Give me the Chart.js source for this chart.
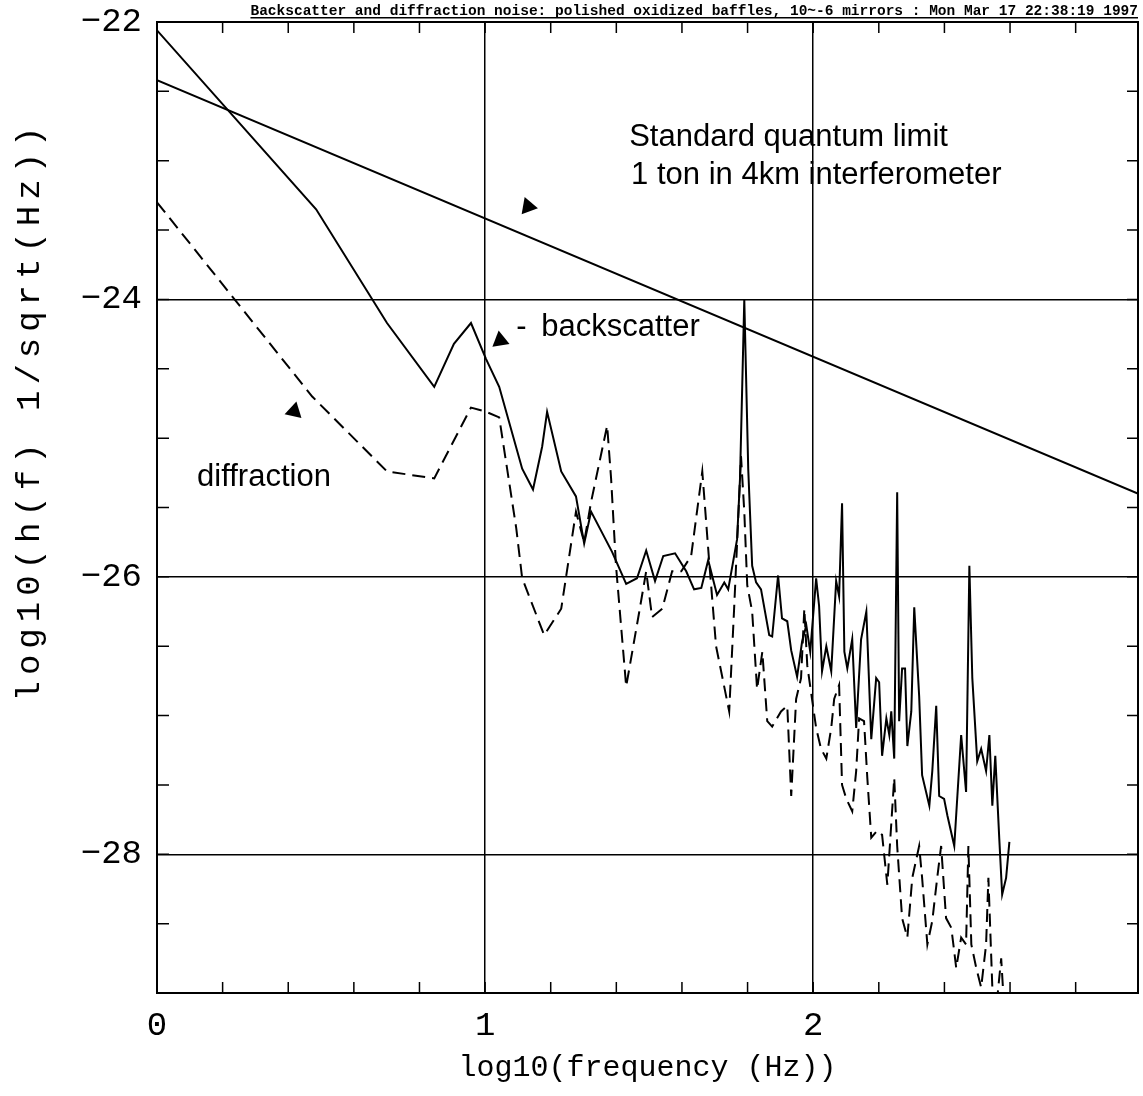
<!DOCTYPE html>
<html>
<head>
<meta charset="utf-8">
<title>Backscatter and diffraction noise</title>
<script src="https://cdn.jsdelivr.net/npm/chart.js@4.4.1/dist/chart.umd.min.js"></script>
<style>
    html, body { margin: 0; padding: 0; background: #fff; }
    canvas { display: block; }
</style>
</head>
<body>
<canvas id="noise" width="1143" height="1096"></canvas>
<script>
/* values: x = log10(frequency), y = log10(h(f)) */
const sqlFreq = [0, 3];
const sqlH    = [-22.42, -25.41];

const backFreq = [0, 0.485, 0.701, 0.845, 0.905, 0.957, 1.003, 1.043, 1.113, 1.146,
    1.174, 1.189, 1.232, 1.277, 1.302, 1.323, 1.387, 1.430, 1.463, 1.491,
    1.518, 1.543, 1.579, 1.613, 1.637, 1.659, 1.680, 1.707, 1.729, 1.741,
    1.768, 1.777, 1.790, 1.802, 1.814, 1.826, 1.841, 1.866, 1.875, 1.893,
    1.905, 1.921, 1.933, 1.951, 1.966, 1.979, 1.991, 2.009, 2.018, 2.027,
    2.040, 2.055, 2.070, 2.079, 2.088, 2.095, 2.104, 2.119, 2.131, 2.146,
    2.162, 2.177, 2.192, 2.201, 2.210, 2.223, 2.232, 2.238, 2.247, 2.256,
    2.262, 2.271, 2.280, 2.287, 2.299, 2.308, 2.323, 2.332, 2.354, 2.363,
    2.375, 2.384, 2.399, 2.409, 2.430, 2.451, 2.466, 2.476, 2.485, 2.500,
    2.512, 2.527, 2.537, 2.546, 2.555, 2.567, 2.576, 2.588, 2.598];
const backH = [-22.06, -23.35, -24.17, -24.63, -24.32, -24.17, -24.43, -24.63, -25.22, -25.37,
    -25.06, -24.81, -25.24, -25.42, -25.76, -25.53, -25.82, -26.05, -26.01, -25.81,
    -26.03, -25.85, -25.83, -25.96, -26.09, -26.08, -25.88, -26.13, -26.04, -26.09,
    -25.73, -25.29, -24.00, -25.22, -25.92, -26.04, -26.09, -26.42, -26.43, -25.99,
    -26.30, -26.32, -26.53, -26.72, -26.47, -26.35, -26.54, -26.01, -26.21, -26.68,
    -26.50, -26.68, -26.03, -26.14, -25.47, -26.54, -26.66, -26.45, -27.09, -26.45,
    -26.25, -27.17, -26.73, -26.76, -27.29, -27.02, -27.14, -26.97, -27.31, -25.39,
    -27.04, -26.66, -26.66, -27.22, -26.97, -26.22, -26.86, -27.43, -27.65, -27.40,
    -26.93, -27.58, -27.60, -27.72, -27.94, -27.14, -27.55, -25.92, -26.73, -27.33,
    -27.24, -27.40, -27.14, -27.65, -27.29, -27.88, -28.29, -28.17, -27.91];

const diffFreq = [0, 0.473, 0.701, 0.845, 0.957, 1.003, 1.043, 1.095, 1.113, 1.180,
    1.232, 1.277, 1.302, 1.323, 1.372, 1.384, 1.399, 1.430, 1.470, 1.491,
    1.509, 1.540, 1.570, 1.598, 1.628, 1.662, 1.683, 1.704, 1.744, 1.759,
    1.780, 1.790, 1.799, 1.814, 1.829, 1.845, 1.860, 1.875, 1.902, 1.921,
    1.933, 1.948, 1.963, 1.973, 1.982, 2.009, 2.024, 2.040, 2.055, 2.064,
    2.079, 2.088, 2.101, 2.119, 2.131, 2.140, 2.155, 2.165, 2.177, 2.195,
    2.210, 2.226, 2.247, 2.256, 2.271, 2.287, 2.302, 2.323, 2.332, 2.348,
    2.363, 2.378, 2.390, 2.405, 2.421, 2.436, 2.451, 2.466, 2.473, 2.482,
    2.497, 2.512, 2.527, 2.534, 2.546, 2.558, 2.573, 2.582];
const diffH = [-23.30, -24.70, -25.24, -25.29, -24.78, -24.81, -24.85, -25.65, -26.01, -26.42,
    -26.23, -25.53, -25.75, -25.46, -24.91, -25.29, -25.92, -26.79, -26.25, -25.96,
    -26.29, -26.23, -25.96, -25.96, -25.85, -25.24, -25.89, -26.50, -26.97, -26.23,
    -25.13, -25.53, -26.06, -26.25, -26.81, -26.54, -27.04, -27.08, -26.97, -26.93,
    -27.58, -26.88, -26.73, -26.23, -26.64, -27.09, -27.24, -27.31, -27.09, -26.88,
    -26.78, -27.50, -27.60, -27.69, -27.40, -27.02, -27.04, -27.45, -27.88, -27.83,
    -27.86, -28.22, -27.45, -27.94, -28.46, -28.60, -28.17, -27.94, -28.17, -28.65,
    -28.48, -28.17, -27.94, -28.46, -28.53, -28.82, -28.60, -28.65, -27.94, -28.65,
    -28.82, -28.96, -28.65, -28.17, -28.96, -29.11, -28.75, -29.11];

/* little arrow heads and their direction (deg, clockwise from up) */
const arrowFreq  = [1.131, 1.046, 0.418];
const arrowH     = [-23.33, -24.295, -24.806];
const arrowAngle = [220, 231, 253];

/* labels written inside the plot */
const noteText = ['Standard quantum limit', '1 ton in 4km interferometer', '-', 'backscatter', 'diffraction'];
const noteFreq = [1.439, 1.445, 1.095, 1.171, 0.122];
const noteH    = [-22.892, -23.165, -24.266, -24.266, -25.345];

/* axes */
const xTickVals  = [0, 0.2, 0.4, 0.6, 0.8, 1, 1.2, 1.4, 1.6, 1.8, 2, 2.2, 2.4, 2.6, 2.8];
const xLabelVals = [0, 1, 2];
const yTickVals  = [-29, -28.5, -28, -27.5, -27, -26.5, -26, -25.5, -25, -24.5, -24, -23.5, -23, -22.5, -22];
const yLabelVals = [-22, -24, -26, -28];
const xGridVals  = [1, 2];
const yGridVals  = [-24, -26, -28];

const topTitle = 'Backscatter and diffraction noise: polished oxidized baffles, 10~-6 mirrors : Mon Mar 17 22:38:19 1997';
const xTitle = 'log10(frequency (Hz))';
const yTitle = 'log10(h(f) 1/sqrt(Hz))';

const monoFont = '"Liberation Mono", "Courier New", monospace';
const sansFont = '"Liberation Sans", Arial, sans-serif';

const pts = (xs, ys) => xs.map((v, i) => ({x: v, y: ys[i]}));
const inList = (list, v) => list.some(l => Math.abs(l - v) < 1e-6);

/* frame, inside tick marks and all text */
const framePlugin = {
    id: 'frame',
    beforeDatasetsDraw(chart) {
        const {ctx, chartArea: a} = chart;
        const sx = chart.scales.x, sy = chart.scales.y;
        ctx.save();
        ctx.strokeStyle = '#000';
        ctx.lineWidth = 1.5;
        ctx.beginPath();
        sx.ticks.forEach(t => {
            const px = sx.getPixelForValue(t.value);
            ctx.moveTo(px, a.bottom); ctx.lineTo(px, a.bottom - 11);
            ctx.moveTo(px, a.top);    ctx.lineTo(px, a.top + 11);
        });
        sy.ticks.forEach(t => {
            const py = sy.getPixelForValue(t.value);
            ctx.moveTo(a.left, py);  ctx.lineTo(a.left + 12, py);
            ctx.moveTo(a.right, py); ctx.lineTo(a.right - 11, py);
        });
        ctx.stroke();
        ctx.lineWidth = 2;
        ctx.strokeRect(a.left, a.top, a.right - a.left, a.bottom - a.top);
        ctx.restore();
    },
    afterDraw(chart) {
        const {ctx, chartArea: a} = chart;
        const sx = chart.scales.x, sy = chart.scales.y;
        ctx.save();
        ctx.fillStyle = '#000';

        // notes
        ctx.font = '31px ' + sansFont;
        ctx.textAlign = 'left';
        ctx.textBaseline = 'alphabetic';
        noteText.forEach((t, i) => {
            ctx.fillText(t, sx.getPixelForValue(noteFreq[i]), sy.getPixelForValue(noteH[i]));
        });

        // header line, underlined
        ctx.font = 'bold 14.5px ' + monoFont;
        ctx.textAlign = 'right';
        ctx.fillText(topTitle, a.right, 15);
        const w = ctx.measureText(topTitle).width;
        ctx.fillRect(a.right - w, 17, w, 1.5);

        // x title
        ctx.font = '30px ' + monoFont;
        ctx.textAlign = 'center';
        ctx.textBaseline = 'middle';
        ctx.fillText(xTitle, (a.left + a.right) / 2, 1068);

        // y title
        ctx.translate(30, 411);
        ctx.rotate(-Math.PI / 2);
        ctx.font = '34px ' + monoFont;
        ctx.letterSpacing = '6px';
        ctx.fillText(yTitle, 0, 0);
        ctx.restore();
    }
};

new Chart(document.getElementById('noise'), {
    type: 'scatter',
    data: {
        datasets: [
            {label: 'SQL', data: pts(sqlFreq, sqlH), showLine: true, borderColor: '#000',
             borderWidth: 2, pointRadius: 0, tension: 0},
            {label: 'backscatter', data: pts(backFreq, backH), showLine: true, borderColor: '#000',
             borderWidth: 2, pointRadius: 0, tension: 0},
            {label: 'diffraction', data: pts(diffFreq, diffH), showLine: true, borderColor: '#000',
             borderWidth: 2, borderDash: [13, 7], pointRadius: 0, tension: 0},
            {label: 'arrows', data: pts(arrowFreq, arrowH), showLine: false,
             pointStyle: 'triangle', pointRadius: 10, rotation: arrowAngle,
             backgroundColor: '#000', borderColor: '#000', borderWidth: 0}
        ]
    },
    options: {
        responsive: false, animation: false, events: [],
        layout: {autoPadding: false, padding: {top: 22, right: 5, left: 0, bottom: 0}},
        plugins: {legend: {display: false}, tooltip: {enabled: false}, title: {display: false}},
        scales: {
            x: {
                type: 'linear', min: 0, max: 2.99,
                afterFit(s) {
                    s.height = 103;
                    s.paddingLeft = 0; s.paddingRight = 0;
                },
                afterBuildTicks(s) { s.ticks = xTickVals.map(v => ({value: v})); },
                ticks: {
                    autoSkip: false, maxRotation: 0, padding: 13, color: '#000',
                    font: {family: monoFont, size: 34},
                    callback: v => inList(xLabelVals, v) ? String(Math.round(v)) : ''
                },
                grid: {
                    drawTicks: false, lineWidth: 1.5,
                    color: c => (c.tick && inList(xGridVals, c.tick.value)) ? '#000' : 'rgba(0,0,0,0)'
                },
                border: {display: false}
            },
            y: {
                type: 'linear', min: -29, max: -22,
                afterFit(s) {
                    s.width = 157;
                    s.paddingTop = 0; s.paddingBottom = 0;
                },
                afterBuildTicks(s) { s.ticks = yTickVals.map(v => ({value: v})); },
                ticks: {
                    autoSkip: false, padding: 15, color: '#000',
                    font: {family: monoFont, size: 34},
                    callback: v => inList(yLabelVals, v) ? '\u2212' + Math.abs(Math.round(v)) : ''
                },
                grid: {
                    drawTicks: false, lineWidth: 1.5,
                    color: c => (c.tick && inList(yGridVals, c.tick.value)) ? '#000' : 'rgba(0,0,0,0)'
                },
                border: {display: false}
            }
        }
    },
    plugins: [framePlugin]
});
</script>
</body>
</html>
